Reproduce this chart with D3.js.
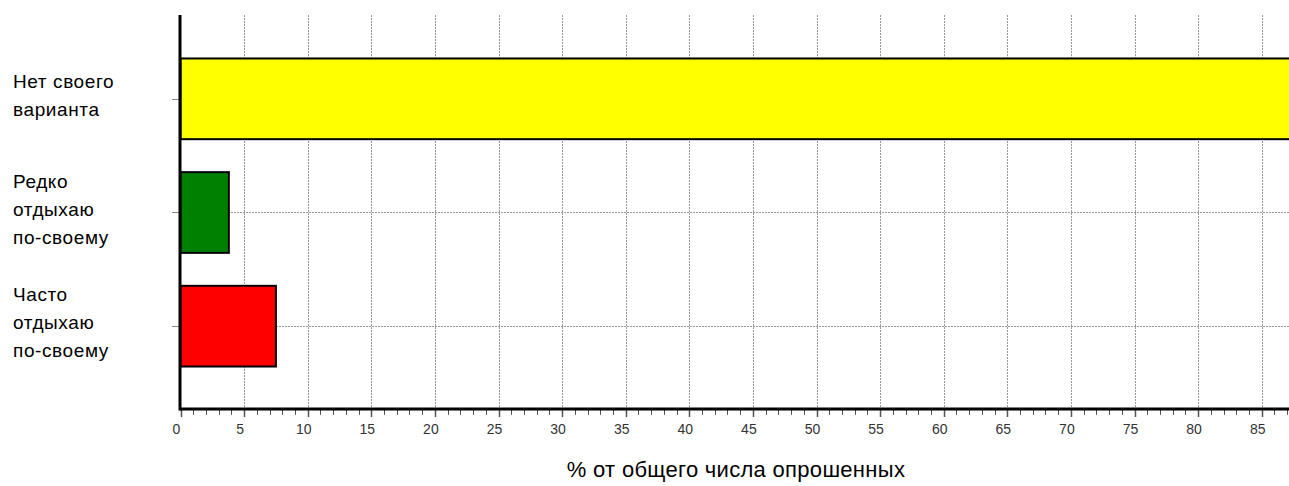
<!DOCTYPE html>
<html><head><meta charset="utf-8">
<script src="https://cdn.jsdelivr.net/npm/d3@7"></script>
<style>html,body{margin:0;padding:0;background:#fff;overflow:hidden}</style>
</head><body>
<script>
const categories = [
  ["Нет своего", "варианта"],
  ["Редко", "отдыхаю", "по-своему"],
  ["Часто", "отдыхаю", "по-своему"]
];
const categoryKeys = ["Нет своего варианта", "Редко отдыхаю по-своему", "Часто отдыхаю по-своему"];
const values = [88.7, 3.8, 7.5];
const colors = ["#ffff00", "#008000", "#ff0000"];
const tickValues = [0,5,10,15,20,25,30,35,40,45,50,55,60,65,70,75,80,85];
const minorTicks = d3.range(0, 88, 1);
const axisTitle = "% от общего числа опрошенных";

const W = 1289, H = 486;
const svg = d3.select("body").append("svg").attr("width", W).attr("height", H)
  .style("font-family", "'Liberation Sans', Arial, sans-serif");

const x = d3.scaleLinear().domain([0, 87.2]).range([180.5, 1289.7]);
const y = d3.scaleBand().domain(categoryKeys).range([42, 383]).paddingInner(0.29).paddingOuter(0.145);
const plotTop = 15, plotBottom = 409;

svg.append("defs").append("clipPath").attr("id", "plot")
  .append("rect").attr("x", 180).attr("y", 0).attr("width", W - 180).attr("height", plotBottom);

// vertical grid
svg.append("g").selectAll("line").data(tickValues.filter(d => d > 0)).join("line")
  .attr("x1", d => Math.round(x(d)) + 0.5).attr("x2", d => Math.round(x(d)) + 0.5)
  .attr("y1", plotTop).attr("y2", plotBottom)
  .attr("stroke", "#999").attr("stroke-width", 1).attr("stroke-dasharray", "2,1");

// horizontal grid
svg.append("g").selectAll("line").data(categoryKeys).join("line")
  .attr("x1", 180).attr("x2", W)
  .attr("y1", d => Math.round(y(d) + y.bandwidth() / 2) + 0.5)
  .attr("y2", d => Math.round(y(d) + y.bandwidth() / 2) + 0.5)
  .attr("stroke", "#999").attr("stroke-width", 1).attr("stroke-dasharray", "2,1");

// bars
svg.append("g").attr("clip-path", "url(#plot)").selectAll("rect").data(values).join("rect")
  .attr("x", x(0))
  .attr("y", (d, i) => y(categoryKeys[i]))
  .attr("width", d => x(d) - x(0))
  .attr("height", y.bandwidth())
  .attr("fill", (d, i) => colors[i])
  .attr("stroke", "#000").attr("stroke-width", 2);

// x axis ticks
const gx = svg.append("g");
gx.selectAll("line.minor").data(minorTicks).join("line").attr("class", "minor")
  .attr("x1", d => Math.round(x(d)) + 0.5).attr("x2", d => Math.round(x(d)) + 0.5)
  .attr("y1", plotBottom).attr("y2", d => tickValues.includes(d) ? plotBottom + 8 : plotBottom + 6)
  .attr("stroke", "#555").attr("stroke-width", d => tickValues.includes(d) ? 1.5 : 1);
gx.selectAll("text").data(tickValues).join("text")
  .attr("x", d => x(d) - 4).attr("y", 434)
  .attr("text-anchor", "middle").attr("font-size", 14).attr("fill", "#333")
  .text(d => d);

// y axis ticks
svg.append("g").selectAll("line").data(categoryKeys).join("line")
  .attr("x1", 172).attr("x2", 180)
  .attr("y1", d => Math.round(y(d) + y.bandwidth() / 2) + 0.5)
  .attr("y2", d => Math.round(y(d) + y.bandwidth() / 2) + 0.5)
  .attr("stroke", "#888").attr("stroke-width", 1);

// axis lines
svg.append("line").attr("x1", 180).attr("x2", W).attr("y1", plotBottom).attr("y2", plotBottom)
  .attr("stroke", "#000").attr("stroke-width", 3);
svg.append("line").attr("x1", 180).attr("x2", 180).attr("y1", plotTop).attr("y2", plotBottom + 1.5)
  .attr("stroke", "#000").attr("stroke-width", 3);

// category labels
const lab = svg.append("g").selectAll("text").data(categories).join("text")
  .attr("font-size", 19).attr("letter-spacing", 0.6).attr("fill", "#000");
lab.each(function(lines, i) {
  const c = y(categoryKeys[i]) + y.bandwidth() / 2;
  d3.select(this).selectAll("tspan").data(lines).join("tspan")
    .attr("x", 13)
    .attr("y", (d, j) => c + (j - (lines.length - 1) / 2) * 28 + 3)
    .text(d => d);
});

// axis title
svg.append("text").attr("x", 736).attr("y", 477).attr("text-anchor", "middle")
  .attr("font-size", 22).attr("letter-spacing", 0.3).attr("fill", "#000").text(axisTitle);
</script>
</body></html>
